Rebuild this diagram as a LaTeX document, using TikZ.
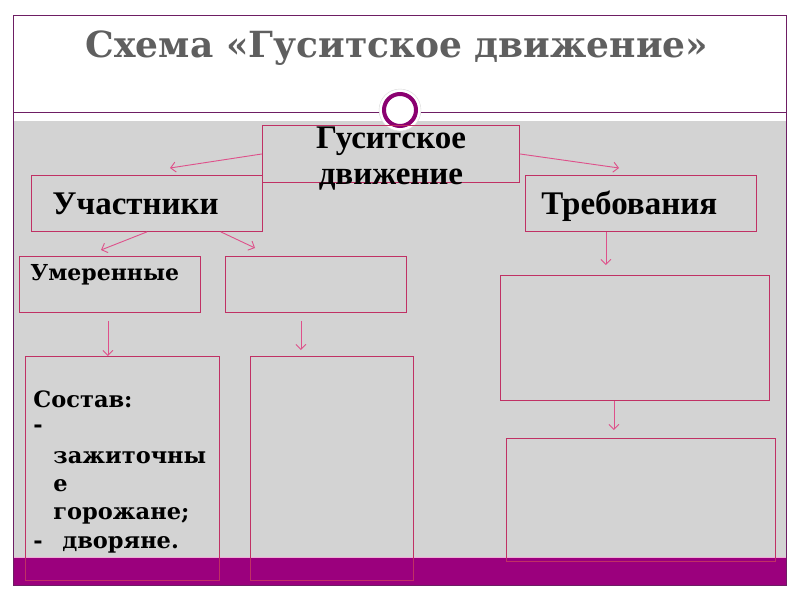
\documentclass[tikz,border=0pt]{standalone}
\usepackage{fontspec}
\setmainfont{Liberation Serif}
\newfontfamily\dvserif{DejaVu Serif}
\usetikzlibrary{arrows.meta}

\definecolor{boxline}{RGB}{192,48,100}
\definecolor{arrowpink}{RGB}{222,80,138}
\definecolor{framepurple}{RGB}{110,30,100}
\definecolor{barpurple}{RGB}{155,0,125}
\definecolor{panelgray}{RGB}{211,211,211}
\definecolor{titlegray}{RGB}{95,95,95}
\definecolor{seppink}{RGB}{240,170,215}

\tikzset{
  box/.style={draw=boxline, line width=0.9pt, rectangle, inner sep=0pt, anchor=north west},
  bigtext/.style={font=\fontsize{33}{36}\selectfont\bfseries},
  smalltext/.style={font=\dvserif\fontsize{22}{26}\selectfont\bfseries},
  listtext/.style={font=\dvserif\fontsize{22.5}{27}\selectfont\bfseries},
  link/.style={->, arrowpink, line width=0.9pt},
}

\begin{document}
\begin{tikzpicture}[x=1pt, y=-1pt, >={Straight Barb[length=5pt,width=10pt]}]
  \useasboundingbox (0,0) rectangle (800,600);
  % background panels
  \fill[panelgray] (13,121) rectangle (786,557);
  \fill[barpurple] (13,558) rectangle (786,585);
  \draw[seppink, line width=1pt] (13,557) -- (786,557);
  \draw[framepurple, line width=0.8pt] (13,15) rectangle (786,585);
  \draw[framepurple, line width=0.9pt] (13,112) -- (786,112);
  \node[titlegray, anchor=base, font=\dvserif\fontsize{36}{40}\selectfont\bfseries] (title) at (397,57) {Схема «Гуситское движение»};
  \fill[white, draw=black!15] (400,110) circle (21pt);
  \draw[barpurple!90!black, line width=4pt, fill=white] (400,110) circle (16pt);

  % boxes
  \node[box, bigtext, align=center, text width=257pt, text height=23pt, text depth=34pt] (hus) at (262,125) {Гуситское\\движение};
  \node[box, bigtext, align=left, inner xsep=21pt, text width=189pt, text height=39pt, text depth=17pt] (part) at (31,175) {Участники};
  \node[box, bigtext, align=left, inner xsep=16pt, text width=199pt, text height=39pt, text depth=17pt] (dem) at (525,175) {Требования};
  \node[box, smalltext, align=left, inner xsep=11pt, text width=159pt, text height=24pt, text depth=32pt] (moder) at (19,256) {Умеренные};
  \node[box, minimum width=181pt, minimum height=56pt] (radic) at (225,256) {};
  \node[box, listtext, align=left, inner xsep=8pt, text width=178pt, text height=51pt, text depth=173pt] (moderset) at (25,356)
    {Состав:\\[-2pt] -\\[4pt] \hspace*{20pt}зажиточны\\[1pt] \hspace*{20pt}е\\[1pt] \hspace*{20pt}горожане;\\[2pt] -\hspace*{12pt} дворяне.};
  \node[box, minimum width=163pt, minimum height=224pt] (radicset) at (250,356) {};
  \node[box, minimum width=269pt, minimum height=125pt] (demone) at (500,275) {};
  \node[box, minimum width=269pt, minimum height=123pt] (demtwo) at (506,438) {};

  % arrows
  \coordinate (tipA) at (170,168);
  \coordinate (tipB) at (619,168);
  \coordinate (tipC) at (101,250);
  \coordinate (tipD) at (255,248);
  \draw[link] (hus.west) -- (tipA);
  \draw[link] (hus.east) -- (tipB);
  \draw[link] (part.south) -- (tipC);
  \draw[link] ([xshift=-42pt]part.south east) -- (tipD);
  \draw[link, shorten <=8pt] ([xshift=-2pt]moder.south) -- ([xshift=-2pt]moder.south |- moderset.north);
  \draw[link, shorten <=8pt, shorten >=6pt] ([xshift=-15pt]radic.south) -- ([xshift=-15pt]radic.south |- radicset.north);
  \draw[link, shorten >=10pt] ([xshift=-35pt]dem.south) -- ([xshift=-35pt]dem.south |- demone.north);
  \draw[link, shorten >=8pt] ([xshift=-21pt]demone.south) -- ([xshift=-21pt]demone.south |- demtwo.north);
\end{tikzpicture}
\end{document}
